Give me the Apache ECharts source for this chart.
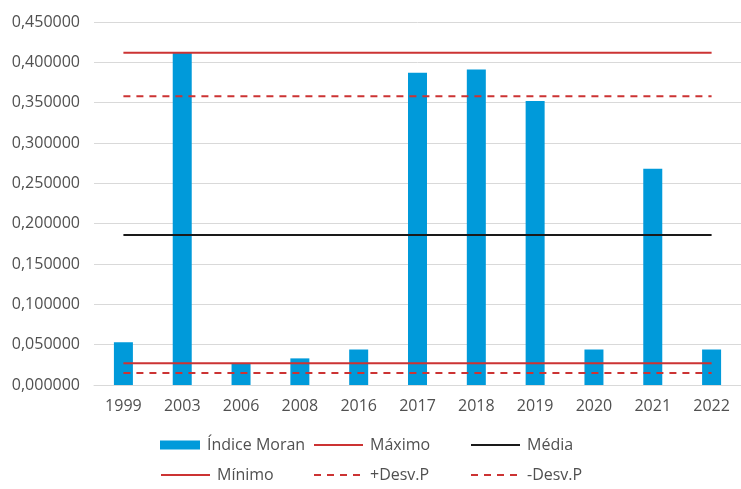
<!DOCTYPE html>
<html>
<head>
<meta charset="utf-8">
<script src="https://cdn.jsdelivr.net/npm/echarts@6/dist/echarts.min.js"></script>
<style>
  html, body { margin: 0; padding: 0; background: #fff; }
  #chart { width: 741px; height: 489px; }
</style>
</head>
<body>
<div id="chart"></div>
<script>
const anos = ['1999', '2003', '2006', '2008', '2016', '2017', '2018', '2019', '2020', '2021', '2022']
const indiceMoran = [0.053, 0.412, 0.027, 0.033, 0.044, 0.387, 0.391, 0.352, 0.044, 0.268, 0.044]
// reference lines (constant values)
const maximo = 0.412
const minimo = 0.027
const media = 0.186
const desvMais = 0.358
const desvMenos = 0.015

const fontFamily = '"Open Sans", sans-serif'
const textColor = '#505050'
const red = '#CC3333'

function constante(v) {
  return anos.map(() => v)
}

function legenda(name, left, top, w, h, isLine) {
  const l = {
    data: [name],
    left: left,
    top: top,
    itemWidth: w,
    itemHeight: h,
    textStyle: { color: textColor, fontSize: 16, fontFamily: fontFamily, padding: [0, 0, 0, 2] }
  }
  if (isLine) {
    l.itemStyle = { opacity: 0 }
  } else {
    l.icon = 'rect'
  }
  return l
}

const chart = echarts.init(document.getElementById('chart'))
chart.setOption({
  animation: false,
  grid: { left: 94, right: -9, top: 22, bottom: 104 },
  legend: [
    legenda('Índice Moran', 155, 432, 40, 9, false),
    legenda('Máximo', 308, 432, 49, 14, true),
    legenda('Média', 465, 432, 49, 14, true),
    legenda('Mínimo', 155, 462, 49, 14, true),
    legenda('+Desv.P', 308, 462, 49, 14, true),
    legenda('-Desv.P', 465, 462, 49, 14, true)
  ],
  xAxis: {
    type: 'category',
    data: anos,
    axisTick: { show: false },
    axisLine: { lineStyle: { color: '#d9d9d9', width: 1 } },
    axisLabel: { color: textColor, fontSize: 16, fontFamily: fontFamily, margin: 13 }
  },
  yAxis: {
    type: 'value',
    min: 0,
    max: 0.45,
    interval: 0.05,
    axisLine: { show: false },
    axisTick: { show: false },
    splitLine: { lineStyle: { color: '#d9d9d9', width: 1 } },
    axisLabel: {
      color: textColor,
      fontSize: 16,
      fontFamily: fontFamily,
      margin: 14,
      formatter: v => v.toFixed(6).replace('.', ',')
    }
  },
  series: [
    {
      name: 'Índice Moran',
      type: 'bar',
      data: indiceMoran,
      barWidth: 19,
      itemStyle: { color: '#009ADA' }
    },
    {
      name: 'Máximo', type: 'line', data: constante(maximo), symbol: 'none',
      lineStyle: { color: red, width: 2 }, itemStyle: { color: red }
    },
    {
      name: 'Média', type: 'line', data: constante(media), symbol: 'none',
      lineStyle: { color: '#1a1a1a', width: 2 }, itemStyle: { color: '#1a1a1a' }
    },
    {
      name: 'Mínimo', type: 'line', data: constante(minimo), symbol: 'none',
      lineStyle: { color: red, width: 2 }, itemStyle: { color: red }
    },
    {
      name: '+Desv.P', type: 'line', data: constante(desvMais), symbol: 'none',
      lineStyle: { color: red, width: 2, type: [7, 6] }, itemStyle: { color: red }
    },
    {
      name: '-Desv.P', type: 'line', data: constante(desvMenos), symbol: 'none',
      lineStyle: { color: red, width: 2, type: [7, 6] }, itemStyle: { color: red }
    }
  ]
})
</script>
</body>
</html>
